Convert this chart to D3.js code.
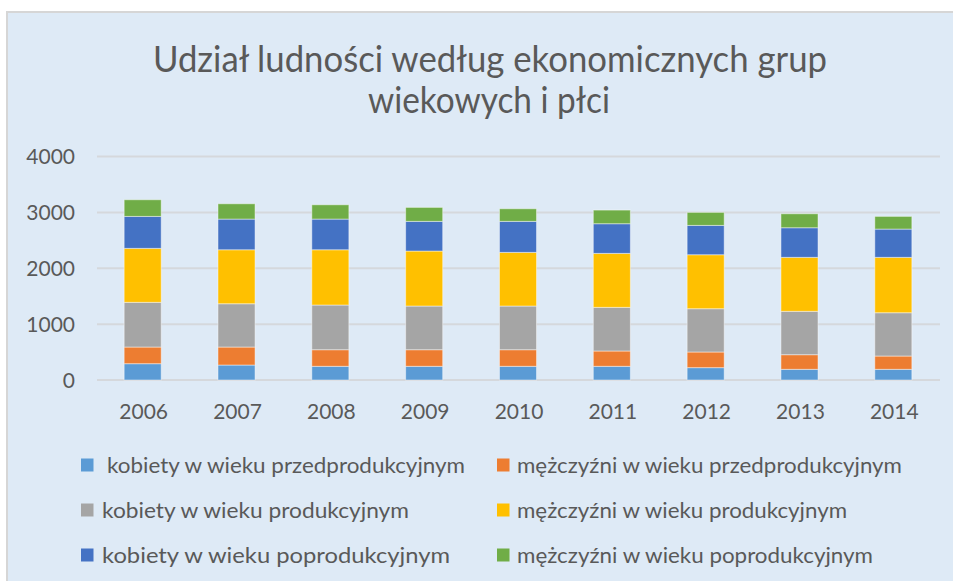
<!DOCTYPE html>
<html>
<head>
<meta charset="utf-8">
<script src="https://cdn.jsdelivr.net/npm/d3@7"></script>
<style>
  body { margin: 0; background: #fff; overflow: hidden; }
  svg { display: block; }
  text { font-family: Lato, "Open Sans", sans-serif; fill: #595959; }
</style>
</head>
<body>
<svg id="chart" width="953" height="581"></svg>
<script>
// data
var years = ["2006", "2007", "2008", "2009", "2010", "2011", "2012", "2013", "2014"];
var kobietyPrzed = [292, 268, 245, 245, 245, 245, 221, 191, 191];
var mezczyzniPrzed = [298, 322, 297, 297, 297, 274, 280, 262, 238];
var kobietyProd = [800, 775, 800, 782, 782, 781, 775, 776, 775];
var mezczyzniProd = [966, 966, 989, 984, 960, 966, 966, 966, 991];
var kobietyPo = [572, 549, 549, 531, 555, 531, 525, 530, 506];
var mezczyzniPo = [298, 274, 256, 250, 226, 244, 233, 250, 227];
var yTicks = [0, 1000, 2000, 3000, 4000];

var seriesNames = [
    " kobiety w wieku przedprodukcyjnym",
    "mężczyźni w wieku przedprodukcyjnym",
    "kobiety w wieku produkcyjnym",
    "mężczyźni w wieku produkcyjnym",
    "kobiety w wieku poprodukcyjnym",
    "mężczyźni w wieku poprodukcyjnym"
];
var seriesValues = [kobietyPrzed, mezczyzniPrzed, kobietyProd, mezczyzniProd, kobietyPo, mezczyzniPo];
var colors = ["#5b9bd5", "#ed7d31", "#a5a5a5", "#ffc000", "#4472c4", "#70ad47"];

var svg = d3.select("#chart");

// chart area background, border only on top and left
svg.append("rect")
    .attr("x", 7).attr("y", 12)
    .attr("width", 946).attr("height", 569)
    .attr("fill", "#deeaf6");
svg.append("path")
    .attr("d", "M7,581V12H953")
    .attr("fill", "none")
    .attr("stroke", "#d6d6d6")
    .attr("stroke-width", 2);

// title
var title = svg.append("text")
    .attr("text-anchor", "middle")
    .style("font-size", "36px");
title.append("tspan").attr("x", 490).attr("y", 72)
    .attr("textLength", 674).attr("lengthAdjust", "spacingAndGlyphs")
    .text("Udział ludności według ekonomicznych  grup");
title.append("tspan").attr("x", 489).attr("y", 113)
    .attr("textLength", 242).attr("lengthAdjust", "spacingAndGlyphs")
    .text("wiekowych i płci");

// scales
var x = d3.scaleBand().domain(years).range([96, 940]).paddingInner(0.605).paddingOuter(0.3);
var y = d3.scaleLinear().domain([0, 4000]).range([380, 156.5]);

// gridlines
svg.append("g").selectAll("line")
    .data(yTicks)
    .enter().append("line")
    .attr("x1", 97).attr("x2", 940)
    .attr("y1", function(d) { return y(d); })
    .attr("y2", function(d) { return y(d); })
    .attr("stroke", "#d5d8dc")
    .attr("stroke-width", 2);

// y labels
svg.append("g").selectAll("text")
    .data(yTicks)
    .enter().append("text")
    .attr("x", 75)
    .attr("y", function(d) { return y(d) + 7.5; })
    .attr("text-anchor", "end")
    .style("font-size", "21px")
    .text(function(d) { return d; });

// x labels
svg.append("g").selectAll("text")
    .data(years)
    .enter().append("text")
    .attr("x", function(d) { return x(d) + x.bandwidth() / 2 + 1; })
    .attr("y", 419)
    .attr("text-anchor", "middle")
    .style("font-size", "21px")
    .text(function(d) { return d; });

// stacked bars
var rows = years.map(function(yr, i) {
    var row = { year: yr };
    seriesValues.forEach(function(vals, s) { row["s" + s] = vals[i]; });
    return row;
});
var keys = seriesValues.map(function(v, s) { return "s" + s; });
var stacked = d3.stack().keys(keys)(rows);

svg.append("g").selectAll("g")
    .data(stacked)
    .enter().append("g")
    .attr("fill", function(d, i) { return colors[i]; })
    .selectAll("rect")
    .data(function(d) { return d; })
    .enter().append("rect")
    .attr("x", function(d) { return x(d.data.year); })
    .attr("y", function(d) { return y(d[1]); })
    .attr("width", x.bandwidth())
    .attr("height", function(d) { return y(d[0]) - y(d[1]); })
    .attr("stroke", "rgba(255,255,255,0.45)")
    .attr("stroke-width", 1);

// legend
var legendX = [81, 497];
var legendY = [465, 510, 555];
var legendW = [358, 385, 307, 330, 348, 356];
var legend = svg.append("g").selectAll("g")
    .data(seriesNames)
    .enter().append("g")
    .attr("transform", function(d, i) {
        return "translate(" + legendX[i % 2] + "," + legendY[Math.floor(i / 2)] + ")";
    });
legend.append("rect")
    .attr("x", 0).attr("y", -6.5)
    .attr("width", 12.5).attr("height", 13)
    .attr("fill", function(d, i) { return colors[i]; });
legend.append("text")
    .attr("x", function(d, i) { return i === 0 ? 26 : (i % 2 ? 20 : 21); })
    .attr("y", 7.5)
    .style("font-size", "22px")
    .attr("textLength", function(d, i) { return legendW[i]; })
    .attr("lengthAdjust", "spacingAndGlyphs")
    .text(function(d) { return d.trim(); });
</script>
</body>
</html>
